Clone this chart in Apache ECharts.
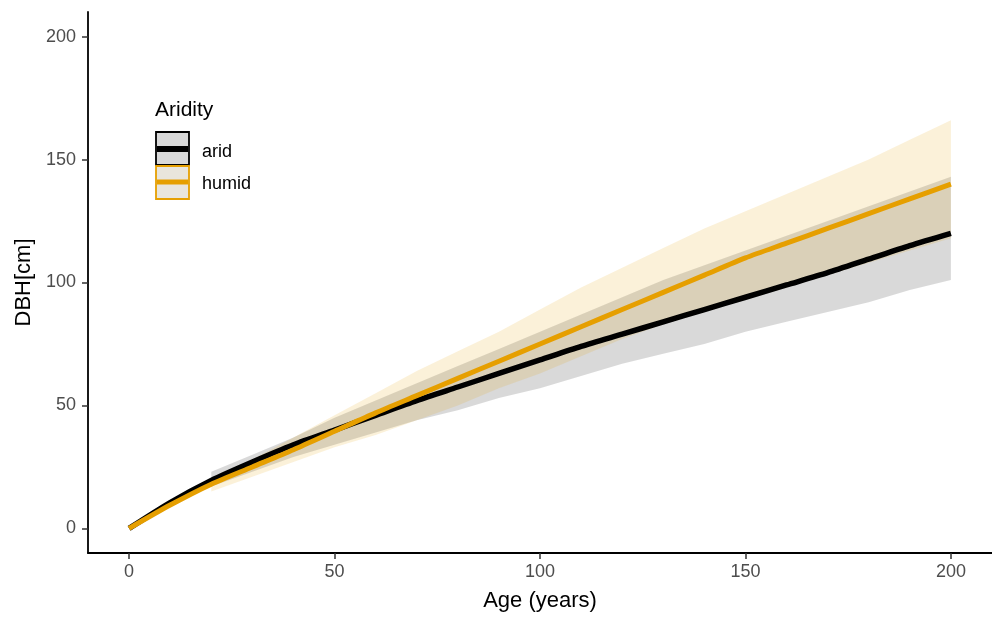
<!DOCTYPE html>
<html><head><meta charset="utf-8">
<script src="https://cdn.jsdelivr.net/npm/echarts@6/dist/echarts.min.js"></script>
<style>html,body{margin:0;padding:0;background:#fff}#c{width:992px;height:617px}</style>
</head><body><div id="c"></div>
<script>
const ages = [0,10,20,30,40,50,60,70,80,90,100,110,120,130,140,150,160,170,180,190,200];
const aridMean  = [0,10.5,19.5,27,34,40,46,52,57.5,63,68.5,74,79,84,89,94,99,104,109.5,115,120];
const humidMean = [0,9.5,18,25,32,39.5,47,54,61,68,75,82,89,96,103,110,116,122,128,134,140];
const bandAges  = [20,30,40,50,60,70,80,90,100,110,120,130,140,150,160,170,180,190,200];
const aridLo  = [17,23,29,34,39,44,48,53,57,62,67,71,75,80,84,88,92,97,101];
const aridHi  = [23,30,37,45,52,59,66,73,80,87,94,101,107,113,119,125,131,137,143];
const humidLo = [15,21,27,33,38,44,50,57,63,70,77,83,88,93,98,103,108,113,118];
const humidHi = [20,28,37,46,55,64,72,80,89,98,106,114,122,129,136,143,150,158,166];
const xTicks = [0,50,100,150,200];
const yTicks = [0,50,100,150,200];

const FONT = 'Liberation Sans, Arial, sans-serif';
function ribbon(lo, hi, color){
  return {
    type:'custom', silent:true, z:1,
    data: bandAges.map((a,i)=>[a, lo[i], hi[i]]),
    renderItem:(params, api)=>{
      if(params.dataIndex!==0) return null;
      const pts=[];
      for(let i=0;i<bandAges.length;i++) pts.push(api.coord([bandAges[i], hi[i]]));
      for(let i=bandAges.length-1;i>=0;i--) pts.push(api.coord([bandAges[i], lo[i]]));
      return {type:'polygon', shape:{points:pts}, style:{fill:color}};
    }
  };
}
const chart = echarts.init(document.getElementById('c'), null, {renderer:'canvas'});
const axisFont = {color:'#4d4d4d', fontSize:18, fontFamily:FONT};
chart.setOption({
  animation:false,
  backgroundColor:'#fff',
  grid:{left:88, top:12, right:0, bottom:58, containLabel:false},
  xAxis:{type:'value', min:-10, max:210,
    name:'Age (years)', nameLocation:'middle', nameGap:37,
    nameTextStyle:{color:'#000', fontSize:22, fontFamily:FONT},
    axisLine:{show:true, onZero:false, lineStyle:{color:'#000', width:1.8}},
    axisTick:{show:true, length:6, lineStyle:{color:'#333', width:1.5}, customValues:xTicks},
    axisLabel:Object.assign({margin:10, customValues:xTicks}, axisFont),
    splitLine:{show:false}},
  yAxis:{type:'value', min:-10, max:210,
    name:'DBH[cm]', nameLocation:'middle', nameGap:45, nameRotate:90,
    nameTextStyle:{color:'#000', fontSize:22, fontFamily:FONT},
    axisLine:{show:true, onZero:false, lineStyle:{color:'#000', width:1.8}},
    axisTick:{show:true, length:6, lineStyle:{color:'#333', width:1.5}, customValues:yTicks},
    axisLabel:Object.assign({margin:12, customValues:yTicks}, axisFont),
    splitLine:{show:false}},
  series:[
    ribbon(aridLo, aridHi, 'rgba(0,0,0,0.15)'),
    ribbon(humidLo, humidHi, 'rgba(230,159,0,0.15)'),
    {type:'line', name:'arid', z:3, showSymbol:false, symbol:'none', smooth:0.25,
     data:ages.map((a,i)=>[a, aridMean[i]]), lineStyle:{color:'#000', width:5.5}},
    {type:'line', name:'humid', z:4, showSymbol:false, symbol:'none', smooth:0.25,
     data:ages.map((a,i)=>[a, humidMean[i]]), lineStyle:{color:'#E69F00', width:5}}
  ],
  graphic:[
    {type:'text', left:155, top:100, style:{text:'Aridity', fontSize:21, fill:'#000', fontFamily:FONT}},
    {type:'rect', shape:{x:156, y:132, width:33, height:33}, style:{fill:'#d9d9d9', stroke:'#000', lineWidth:1.8}},
    {type:'line', shape:{x1:157, y1:149, x2:188, y2:149}, style:{stroke:'#000', lineWidth:6}},
    {type:'rect', shape:{x:156, y:166, width:33, height:33}, style:{fill:'#e9e5dc', stroke:'#E69F00', lineWidth:1.8}},
    {type:'line', shape:{x1:157, y1:182, x2:188, y2:182}, style:{stroke:'#E69F00', lineWidth:5}},
    {type:'text', left:202, top:143, style:{text:'arid', fontSize:18, fill:'#000', fontFamily:FONT}},
    {type:'text', left:202, top:175, style:{text:'humid', fontSize:18, fill:'#000', fontFamily:FONT}}
  ]
});
</script></body></html>
